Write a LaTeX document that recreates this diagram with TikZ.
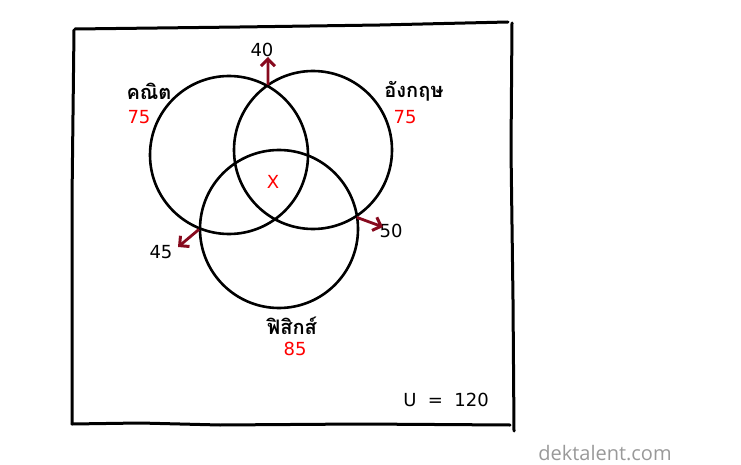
\documentclass[tikz,border=0pt]{standalone}
\usepackage{fontspec}
\setmainfont{DejaVu Sans}
\newfontfamily\thaifont[Script=Thai]{Loma}
\newfontfamily\markfont{Open Sans}
\usetikzlibrary{positioning,arrows.meta}
\definecolor{arrowred}{RGB}{135,10,30}

\begin{document}
\begin{tikzpicture}[x=1pt, y=-1pt,
    set/.style={draw, circle, line width=2.6pt, minimum size=158pt, inner sep=0pt},
    subject/.style={font=\thaifont\bfseries\fontsize{20}{24}\selectfont, inner sep=0pt},
    total/.style={text=red, font=\fontsize{18}{21}\selectfont, inner sep=0pt},
    num/.style={font=\fontsize{18}{21}\selectfont, inner sep=0pt},
    pointer/.style={draw=arrowred, line width=2.8pt,
      -{Straight Barb[length=7pt, width=14pt, line width=3pt]}},
    frame/.style={draw, line width=3pt, line join=round, line cap=round}]
  \useasboundingbox (0,0) rectangle (741,465);
  % hand drawn universe
  \draw[frame] (75,29) -- (240,27) -- (380,25) -- (508,22);
  \draw[frame] (512,23) -- (511,150) -- (513,300) -- (514,431);
  \draw[frame] (72,424) -- (140,423) -- (220,425) -- (360,424) -- (510,425);
  \draw[frame] (74,30) -- (72,200) -- (72,424);
  % sets
  \node[set] (math) at (229,155) {};
  \node[set] (eng) at (313,150) {};
  \node[set] (phys) at (279,229) {};
  \coordinate (top) at (math.61);
  \coordinate (left) at (math.-112);
  \coordinate (right) at (eng.-57);
  % labels
  \node[subject] (mathL) at (149,91) {คณิต};
  \node[total, below=26pt of mathL.center, anchor=center, xshift=-10pt] (mathN) {75};
  \node[subject] (engL) at (414,91) {อังกฤษ};
  \node[total, below=26pt of engL.center, anchor=center, xshift=-9pt] (engN) {75};
  \node[subject] (physL) at (292,326) {ฟิสิกส์};
  \node[total, below=23pt of physL.center, anchor=center, xshift=3pt] (physN) {85};
  \node[total] (x) at (273,182) {X};
  \node[num] (n40) at (262,50) {40};
  \node[num] (n45) at (161,252) {45};
  \node[num] (n50) at (391,231) {50};
  \node[num] (u) at (446,400) {U\ \ =\ \ 120};
  \node[font=\markfont\fontsize{20}{24}\selectfont, text=gray!80, inner sep=0pt] (mark) at (605,453) {dektalent.com};
  % pointers
  \coordinate (topEnd) at (268,57);
  \coordinate (leftEnd) at (178,247);
  \coordinate (rightEnd) at (383,227);
  \draw[pointer] (top) -- (topEnd);
  \draw[pointer] (left) -- (leftEnd);
  \draw[pointer] (right) -- (rightEnd);
\end{tikzpicture}
\end{document}
